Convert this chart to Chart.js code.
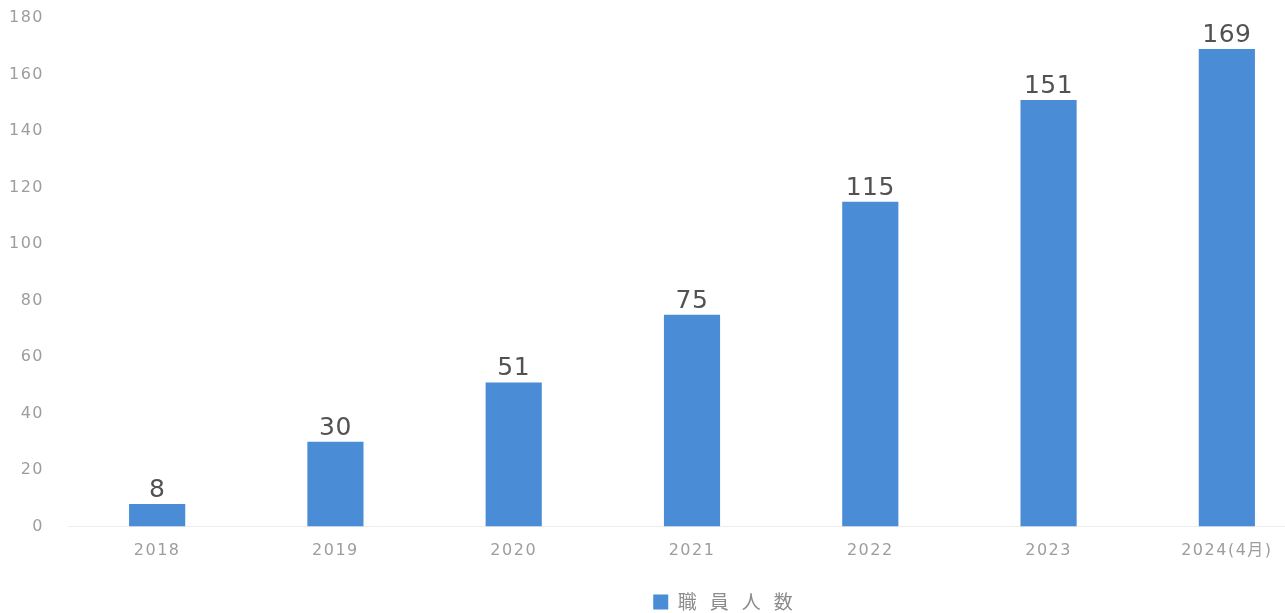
<!DOCTYPE html>
<html>
<head>
<meta charset="utf-8">
<script src="https://cdn.jsdelivr.net/npm/chart.js@4/dist/chart.umd.min.js"></script>
<style>
  html, body { margin: 0; padding: 0; background: #ffffff; overflow: hidden; }
  #wrap { width: 1459px; height: 640px; }
</style>
</head>
<body>
<div id="wrap"><canvas id="c" width="1459" height="640"></canvas></div>
<script>
// Staff headcount per year
const years = ['2018', '2019', '2020', '2021', '2022', '2023', '2024(4月)'];
const staffCounts = [8, 30, 51, 75, 115, 151, 169];
const seriesLabel = '職員人数';
const yTicksMin = 0;
const yTicksMax = 180;
const yTicksStep = 20;

const BAR_BLUE = '#4a8cd6';
const TICK_GREY = '#9d9d9d';

// Prints each bar's value just above it
const valueLabels = {
  id: 'valueLabels',
  afterDatasetsDraw(chart) {
    const ctx = chart.ctx;
    const meta = chart.getDatasetMeta(0);
    const values = chart.data.datasets[0].data;
    ctx.save();
    ctx.letterSpacing = '0.5px';
    ctx.font = '25px "DejaVu Sans", sans-serif';
    ctx.fillStyle = '#525252';
    ctx.textAlign = 'center';
    ctx.textBaseline = 'alphabetic';
    meta.data.forEach((bar, i) => {
      ctx.fillText(String(values[i]), bar.x, bar.y - 7);
    });
    ctx.restore();
  }
};

// Slightly airy spacing for the axis text
const airyText = {
  id: 'airyText',
  beforeDraw(chart) { chart.ctx.letterSpacing = '1.5px'; }
};

const chart = new Chart(document.getElementById('c'), {
  type: 'bar',
  data: {
    labels: years,
    datasets: [{
      label: seriesLabel,
      data: staffCounts,
      backgroundColor: BAR_BLUE,
      borderWidth: 0,
      barPercentage: 0.315,
      categoryPercentage: 1.0
    }]
  },
  options: {
    responsive: false,
    animation: false,
    events: [],
    layout: { autoPadding: false, padding: { top: 18, right: 0, bottom: 18.5, left: 0 } },
    scales: {
      x: {
        grid: { display: false, drawTicks: false },
        border: { display: true, color: '#ededed', width: 1 },
        ticks: {
          color: TICK_GREY,
          padding: 15,
          font: { family: '"DejaVu Sans", "Noto Sans CJK JP", sans-serif', size: 16 }
        },
        afterFit(scale) { scale.height = 60; }
      },
      y: {
        min: yTicksMin,
        max: yTicksMax,
        grid: { display: false, drawTicks: false },
        border: { display: false },
        ticks: {
          stepSize: yTicksStep,
          color: TICK_GREY,
          padding: 24,
          font: { family: '"DejaVu Sans", sans-serif', size: 16 }
        },
        afterFit(scale) {
          scale.width = 68;
          scale.paddingTop = 0;
          scale.paddingBottom = 0;
        }
      },
      // empty margin on the right of the plot
      margin: {
        type: 'linear',
        position: 'right',
        grid: { display: false, drawTicks: false },
        border: { display: false },
        ticks: { display: false },
        afterFit(scale) {
          scale.width = 143;
          scale.paddingTop = 0;
          scale.paddingBottom = 0;
        }
      }
    },
    plugins: {
      tooltip: { enabled: false },
      legend: {
        position: 'bottom',
        labels: {
          boxWidth: 15,
          boxHeight: 15,
          padding: 6,
          color: '#8c8c8c',
          font: { family: '"Noto Sans CJK JP", sans-serif', size: 19 }
        }
      }
    }
  },
  plugins: [valueLabels, airyText]
});

// Widely spaced legend lettering, both when measured and when drawn
const legend = chart.legend;
const legendFit = legend.fit.bind(legend);
const legendDraw = legend.draw.bind(legend);
legend.fit = function () {
  const prev = chart.ctx.letterSpacing;
  chart.ctx.letterSpacing = '13px';
  legendFit();
  chart.ctx.letterSpacing = prev;
};
legend.draw = function (area) {
  const ctx = chart.ctx;
  ctx.save();
  ctx.letterSpacing = '13px';
  legendDraw(area);
  ctx.restore();
};
chart.update();
</script>
</body>
</html>
